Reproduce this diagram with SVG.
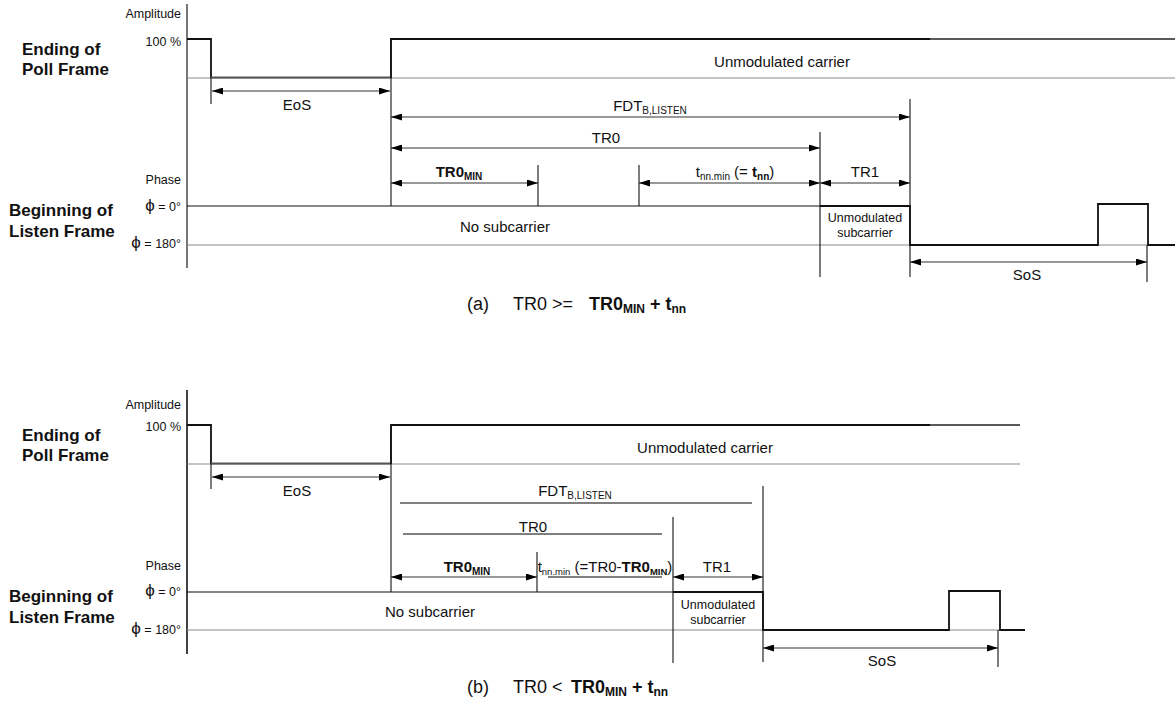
<svg xmlns="http://www.w3.org/2000/svg" width="1175" height="702" viewBox="0 0 1175 702">
<style>
text{font-family:"Liberation Sans",Arial,sans-serif;fill:#111}
.lbl{font-size:15px}
.sm{font-size:12.5px}
.side{font-size:17px;font-weight:bold}
.cap{font-size:18px}
.b{font-weight:bold}
.ref{stroke:#8a8a8a;stroke-width:1.2;fill:none}
.sig{stroke:#111;stroke-width:1.8;fill:none}
.thin{stroke:#111;stroke-width:1.1;fill:none}
.dim{stroke:#333;stroke-width:1.2;fill:none;marker-start:url(#ah);marker-end:url(#ah)}
.plain{stroke:#555;stroke-width:1.3;fill:none}
</style>
<defs>
<marker id="ah" viewBox="0 0 11 7" refX="11" refY="3.5" markerWidth="11" markerHeight="7" orient="auto-start-reverse" markerUnits="userSpaceOnUse">
<path d="M0,0 L11,3.5 L0,7 z" fill="#000"/>
</marker>
</defs>

<!-- ===== (a) ===== -->
<g id="diagram-a">
<g id="a-axes">
<line x1="187" y1="4" x2="187" y2="268" stroke="#777" stroke-width="2"/>
<line class="ref" x1="187" y1="78" x2="1175" y2="78"/>
<line class="ref" x1="187" y1="245" x2="1175" y2="245"/>
</g>
<g id="a-signals">
<path class="sig" d="M187,39 H211 V78"/>
<line x1="211" y1="77.5" x2="391" y2="77.5" stroke="#555" stroke-width="2"/>
<path class="sig" d="M391,78 V39 H930"/>
<line x1="930" y1="39" x2="1175" y2="39" stroke="#222" stroke-width="1.3"/>
<line class="thin" x1="187" y1="206" x2="820" y2="206"/>
<path class="sig" d="M820,206 H910 V245 H1098 V204 H1148 V245 H1175"/>
</g>
<g id="a-connectors">
<line class="thin" x1="211" y1="78" x2="211" y2="104"/>
<line class="thin" x1="391" y1="39" x2="391" y2="206"/>
<line class="thin" x1="538" y1="165" x2="538" y2="206"/>
<line class="thin" x1="639" y1="165" x2="639" y2="206"/>
<line class="thin" x1="820" y1="132" x2="820" y2="277"/>
<line class="thin" x1="910" y1="99" x2="910" y2="277"/>
<line class="thin" x1="1147" y1="245" x2="1147" y2="282"/>
<line class="dim" x1="212" y1="91" x2="390" y2="91"/>
<line class="dim" x1="391" y1="117" x2="910" y2="117"/>
<line class="dim" x1="391" y1="148" x2="820" y2="148"/>
<line class="dim" x1="391" y1="183" x2="538" y2="183"/>
<line class="dim" x1="639" y1="183" x2="820" y2="183"/>
<line class="dim" x1="820" y1="183" x2="910" y2="183"/>
<line class="dim" x1="910" y1="262" x2="1147" y2="262"/>
</g>
<g id="a-labels">
<text class="sm" x="181" y="17.5" text-anchor="end">Amplitude</text>
<text class="sm" x="181" y="46" text-anchor="end">100 %</text>
<text class="side" x="22" y="55">Ending of</text>
<text class="side" x="22" y="75">Poll Frame</text>
<text class="side" x="9" y="216">Beginning of</text>
<text class="side" x="9" y="237">Listen Frame</text>
<text class="sm" x="181" y="184" text-anchor="end">Phase</text>
<text class="sm" x="181" y="211" text-anchor="end"><tspan font-size="17">ϕ</tspan> = 0°</text>
<text class="sm" x="181" y="248" text-anchor="end"><tspan font-size="17">ϕ</tspan> = 180°</text>
<text class="lbl" x="297" y="110" text-anchor="middle">EoS</text>
<text class="lbl" x="782" y="67" text-anchor="middle">Unmodulated carrier</text>
<text class="lbl" x="650" y="111" text-anchor="middle">FDT<tspan font-size="10" dy="3">B,LISTEN</tspan></text>
<text class="lbl" x="606" y="143" text-anchor="middle">TR0</text>
<text class="lbl b" x="459" y="177" text-anchor="middle">TR0<tspan font-size="10" dy="3">MIN</tspan></text>
<text class="lbl" x="735" y="177" text-anchor="middle">t<tspan font-size="10" dy="3">nn.min</tspan><tspan dy="-3"> (= </tspan><tspan class="b">t</tspan><tspan class="b" font-size="10" dy="3">nn</tspan><tspan dy="-3">)</tspan></text>
<text class="lbl" x="865" y="177" text-anchor="middle">TR1</text>
<text class="lbl" x="505" y="232" text-anchor="middle">No subcarrier</text>
<text class="sm" x="865" y="222" text-anchor="middle">Unmodulated</text>
<text class="sm" x="865" y="237" text-anchor="middle">subcarrier</text>
<text class="lbl" x="1027" y="280" text-anchor="middle">SoS</text>
<text class="cap" x="467" y="310">(a)</text>
<text class="cap" x="513" y="310">TR0 &gt;=</text>
<text class="cap b" x="589" y="310">TR0<tspan font-size="12" dy="3">MIN</tspan><tspan dy="-3"> + t</tspan><tspan font-size="12" dy="3">nn</tspan></text>
</g>
</g>

<!-- ===== (b) ===== -->
<g id="diagram-b">
<g id="b-axes">
<line x1="187" y1="390" x2="187" y2="654" stroke="#111" stroke-width="1.6"/>
<line class="ref" x1="187" y1="464" x2="1020" y2="464"/>
<line class="ref" x1="187" y1="630" x2="1025" y2="630"/>
</g>
<g id="b-signals">
<path class="sig" d="M187,425 H211 V464"/>
<line x1="211" y1="463.5" x2="391" y2="463.5" stroke="#555" stroke-width="2"/>
<path class="sig" d="M391,464 V425 H930"/>
<line x1="930" y1="425" x2="1020" y2="425" stroke="#222" stroke-width="1.3"/>
<line class="thin" x1="187" y1="592" x2="673" y2="592"/>
<path class="sig" d="M673,592 H763 V630 H949 V591 H1000 V630 H1025"/>
</g>
<g id="b-connectors">
<line class="thin" x1="211" y1="464" x2="211" y2="489"/>
<line class="thin" x1="391" y1="425" x2="391" y2="592"/>
<line class="thin" x1="537" y1="552" x2="537" y2="592"/>
<line class="thin" x1="673" y1="517" x2="673" y2="663"/>
<line class="thin" x1="763" y1="486" x2="763" y2="662"/>
<line class="thin" x1="998" y1="630" x2="998" y2="667"/>
<line class="dim" x1="212" y1="477" x2="390" y2="477"/>
<line class="plain" x1="400" y1="503" x2="752" y2="503"/>
<line class="plain" x1="403" y1="534" x2="662" y2="534"/>
<line class="dim" x1="391" y1="577" x2="537" y2="577"/>
<line class="plain" x1="548" y1="577" x2="662" y2="577"/>
<line class="dim" x1="673" y1="577" x2="763" y2="577"/>
<line class="dim" x1="763" y1="648" x2="998" y2="648"/>
</g>
<g id="b-labels">
<text class="sm" x="181" y="409" text-anchor="end">Amplitude</text>
<text class="sm" x="181" y="431" text-anchor="end">100 %</text>
<text class="side" x="22" y="441">Ending of</text>
<text class="side" x="22" y="461">Poll Frame</text>
<text class="side" x="9" y="602">Beginning of</text>
<text class="side" x="9" y="623">Listen Frame</text>
<text class="sm" x="181" y="570" text-anchor="end">Phase</text>
<text class="sm" x="181" y="596" text-anchor="end"><tspan font-size="17">ϕ</tspan> = 0°</text>
<text class="sm" x="181" y="634" text-anchor="end"><tspan font-size="17">ϕ</tspan> = 180°</text>
<text class="lbl" x="297" y="496" text-anchor="middle">EoS</text>
<text class="lbl" x="705" y="453" text-anchor="middle">Unmodulated carrier</text>
<text class="lbl" x="575" y="496" text-anchor="middle">FDT<tspan font-size="10" dy="3">B,LISTEN</tspan></text>
<text class="lbl" x="533" y="532" text-anchor="middle">TR0</text>
<text class="lbl b" x="467" y="572" text-anchor="middle">TR0<tspan font-size="10" dy="3">MIN</tspan></text>
<text class="lbl" x="605" y="572" text-anchor="middle">t<tspan font-size="9.5" dy="3">nn.min</tspan><tspan dy="-3"> (=TR0-</tspan><tspan class="b">TR0</tspan><tspan class="b" font-size="9.5" dy="3">MIN</tspan><tspan dy="-3">)</tspan></text>
<text class="lbl" x="717" y="572" text-anchor="middle">TR1</text>
<text class="lbl" x="430" y="617" text-anchor="middle">No subcarrier</text>
<text class="sm" x="718" y="609" text-anchor="middle">Unmodulated</text>
<text class="sm" x="718" y="624" text-anchor="middle">subcarrier</text>
<text class="lbl" x="882" y="666" text-anchor="middle">SoS</text>
<text class="cap" x="467" y="693">(b)</text>
<text class="cap" x="513" y="693">TR0 &lt;</text>
<text class="cap b" x="571" y="693">TR0<tspan font-size="12" dy="3">MIN</tspan><tspan dy="-3"> + t</tspan><tspan font-size="12" dy="3">nn</tspan></text>
</g>
</g>
</svg>
